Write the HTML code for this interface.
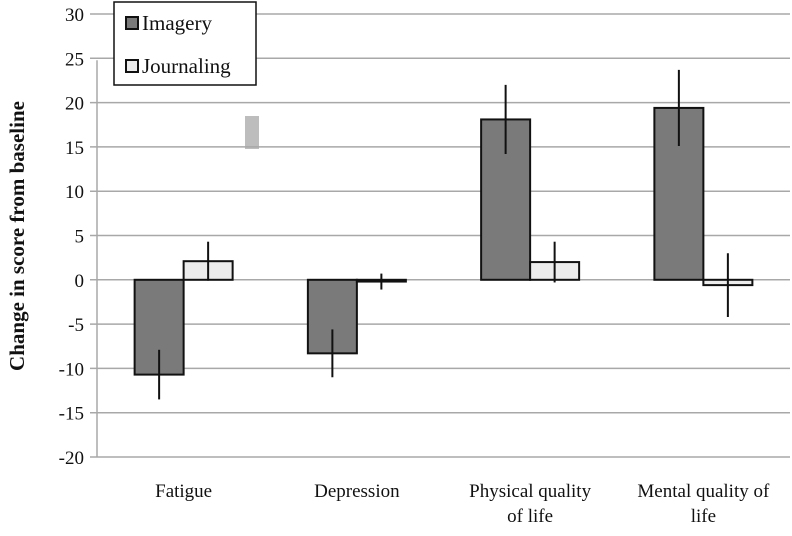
<!DOCTYPE html>
<html><head><meta charset="utf-8"><style>
body{margin:0;background:#fff;}
svg{display:block;font-family:"Liberation Serif",serif;}
</style></head><body>
<svg id="chart" width="792" height="536">
<rect x="245" y="116" width="14" height="33" fill="#bdbdbd"/>
</svg>
<script>
const categories=[["Fatigue"],["Depression"],["Physical quality","of life"],["Mental quality of","life"]];
const imagery=[-10.7,-8.3,18.1,19.4];
const imageryErr=[2.8,2.7,3.9,4.3];
const journaling=[2.1,-0.2,2.0,-0.6];
const journalingErr=[2.2,0.9,2.3,3.6];
const yTicks=[30,25,20,15,10,5,0,-5,-10,-15,-20];
const svg=document.getElementById('chart');
const NS='http://www.w3.org/2000/svg';
const x0=97,x1=790,y30=14,yM20=457;
function y(v){return y30+(30-v)*(yM20-y30)/50;}
const catW=(x1-x0)/categories.length;
function cx(i){return x0+catW*(i+0.5);}
function mk(t,a){const e=document.createElementNS(NS,t);for(const k in a)e.setAttribute(k,a[k]);svg.appendChild(e);return e;}
yTicks.forEach(t=>{
 const g=mk('line',{x1:90,x2:x1,y1:y(t),y2:y(t),stroke:'#a8a8a8','stroke-width':1.5});
 
 
 const l=mk('text',{x:84,y:y(t)+7,'text-anchor':'end','font-size':19,fill:'#111'});
 l.textContent=t;
 
 
});
const ax=mk('line',{x1:x0,x2:x0,y1:y(25)+2,y2:yM20,stroke:'#a8a8a8','stroke-width':1.5});


const bw=49;
categories.forEach((c,i)=>{
 [[imagery,imageryErr,'#7a7a7a',-bw,'imagery'],[journaling,journalingErr,'#ececec',0,'journaling']].forEach(([s,er,f,off,n])=>{
  const v=s[i],bx=cx(i)+off;
  const r=mk('rect',{x:bx,y:Math.min(y(v),y(0)),width:bw,height:Math.abs(y(v)-y(0)),fill:f,stroke:'#111','stroke-width':2});
  
  
  const e=mk('line',{x1:bx+bw/2,x2:bx+bw/2,y1:y(v+er[i]),y2:y(v-er[i]),stroke:'#111','stroke-width':2});
  
  
 });
 c.forEach((ln,j)=>{
  const t=mk('text',{x:cx(i),y:497+j*25,'text-anchor':'middle','font-size':19,fill:'#111'});
  t.textContent=ln;
  
  
 });
});
const yt=mk('text',{transform:'translate(24,236) rotate(-90)','text-anchor':'middle','font-size':21,'font-weight':'bold',fill:'#111'});
yt.textContent='Change in score from baseline';


const lg=mk('rect',{x:114,y:2,width:142,height:83,fill:'#fff',stroke:'#111','stroke-width':1.5});


[['Imagery','#7a7a7a',17],['Journaling','#ececec',60]].forEach(([n,f,yy])=>{
 const s=mk('rect',{x:126,y:yy,width:12,height:12,fill:f,stroke:'#111','stroke-width':2});
 
 
 const t=mk('text',{x:142,y:yy+13,'font-size':21,fill:'#111'});
 t.textContent=n;
 
 
});
</script>
</body></html>
